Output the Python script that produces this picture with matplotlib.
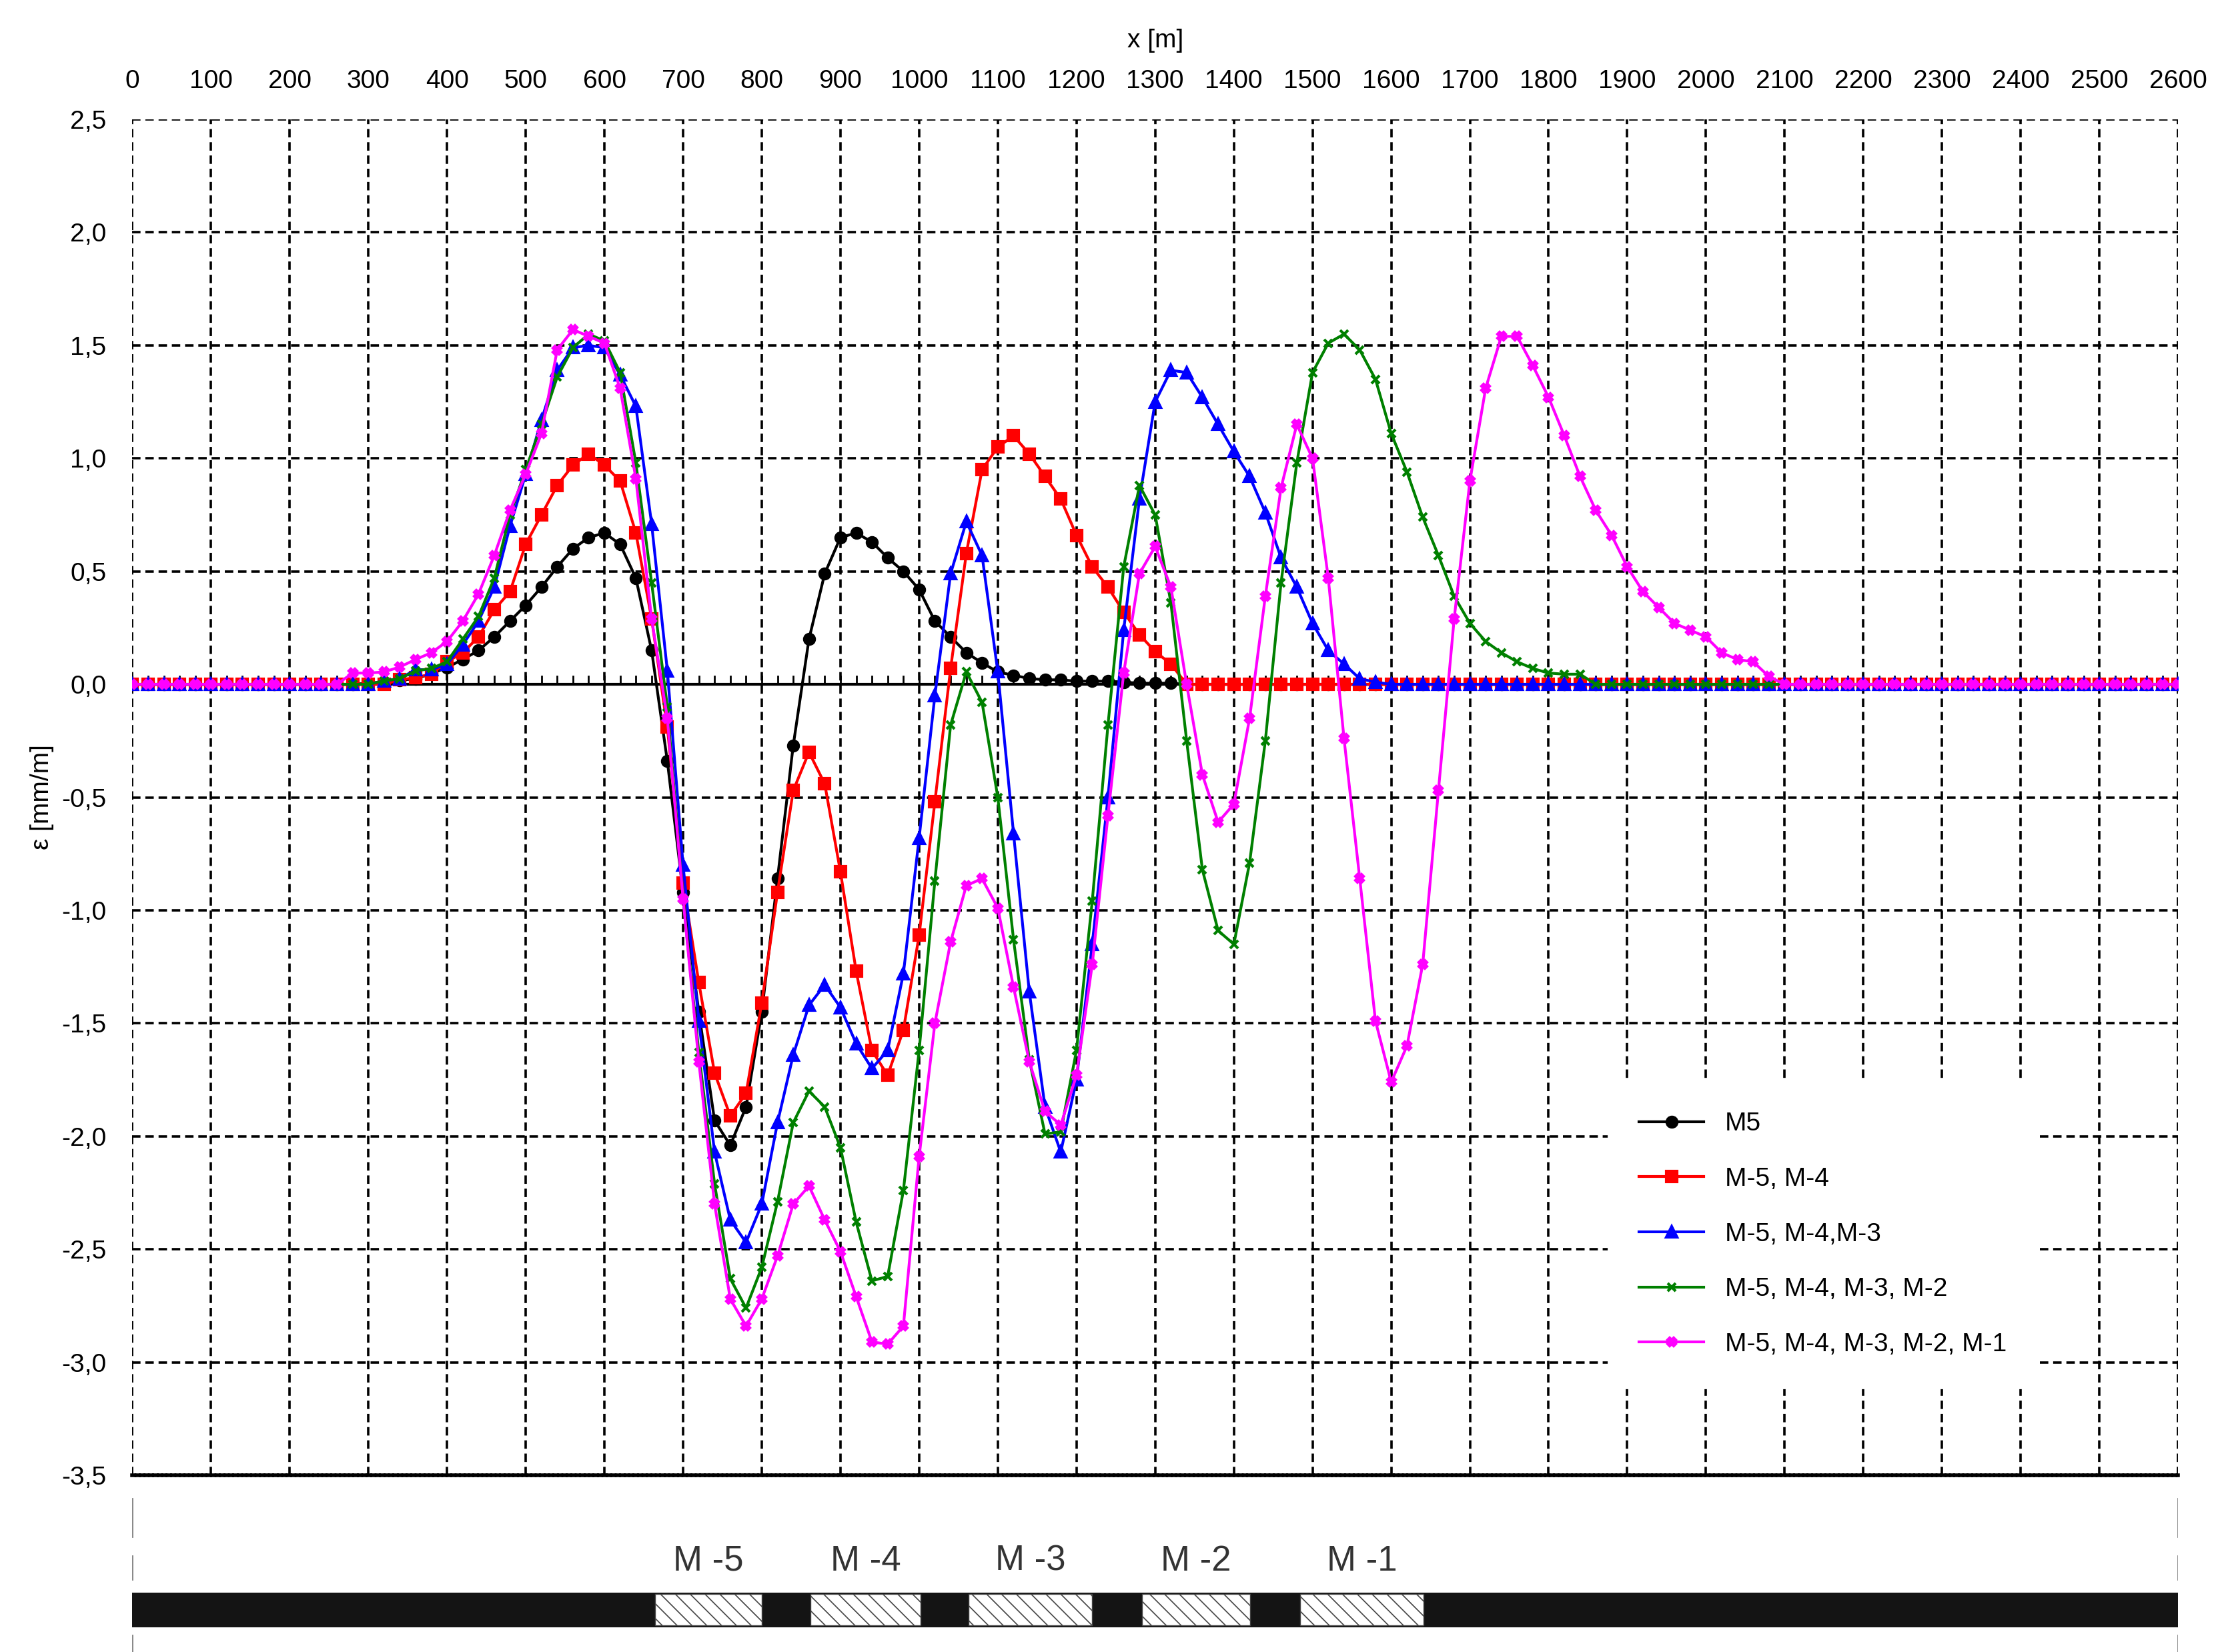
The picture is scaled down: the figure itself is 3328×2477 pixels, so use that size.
import numpy as np
import matplotlib
matplotlib.use("Agg")
import matplotlib.pyplot as plt
from matplotlib.ticker import FuncFormatter, MultipleLocator
from matplotlib.patches import Rectangle

plt.rcParams['font.family'] = ['Liberation Sans', 'DejaVu Sans']
plt.rcParams['hatch.linewidth'] = 0.6

step = 20
x_end = 2600

labels = ["M5", "M-5, M-4", "M-5, M-4,M-3", "M-5, M-4, M-3, M-2", "M-5, M-4, M-3, M-2, M-1"]
colors = ["black", "red", "blue", "green", "magenta"]

m5_start = 300
m5 = [0.005, 0.01, 0.018, 0.025, 0.047, 0.075, 0.11, 0.15, 0.21, 0.28, 0.35, 0.43, 0.52, 0.6, 0.65, 0.67,
      0.62, 0.47, 0.15, -0.34, -0.92, -1.45, -1.93, -2.04, -1.87, -1.45, -0.86, -0.27, 0.2, 0.49, 0.65, 0.67,
      0.63, 0.56, 0.5, 0.42, 0.28, 0.21, 0.14, 0.095, 0.055, 0.04, 0.026, 0.02, 0.02, 0.014, 0.014, 0.014,
      0.01, 0.005, 0.005, 0.005]

m54_start = 340
m54 = [0.02, 0.03, 0.045, 0.1, 0.14, 0.21, 0.33, 0.41, 0.62, 0.75, 0.88, 0.97, 1.02, 0.97, 0.9, 0.67, 0.29,
       -0.19, -0.88, -1.32, -1.72, -1.91, -1.81, -1.41, -0.92, -0.47, -0.3, -0.44, -0.83, -1.27, -1.62, -1.73,
       -1.53, -1.11, -0.52, 0.07, 0.58, 0.95, 1.05, 1.1, 1.02, 0.92, 0.82, 0.66, 0.52, 0.43, 0.32, 0.22, 0.145, 0.09]

m543_start = 320
m543 = [0.016, 0.025, 0.065, 0.065, 0.09, 0.175, 0.28, 0.43, 0.7, 0.93, 1.17, 1.39, 1.49, 1.5, 1.49, 1.37,
        1.23, 0.71, 0.06, -0.8, -1.49, -2.07, -2.37, -2.47, -2.3, -1.94, -1.64, -1.42, -1.33, -1.43, -1.59,
        -1.7, -1.62, -1.28, -0.68, -0.05, 0.49, 0.72, 0.57, 0.055, -0.66, -1.36, -1.87, -2.07, -1.75, -1.15,
        -0.5, 0.24, 0.82, 1.25, 1.39, 1.38, 1.27, 1.15, 1.03, 0.92, 0.76, 0.56, 0.43, 0.27, 0.15, 0.09, 0.025, 0.01]

m5432_start = 320
m5432 = [0.016, 0.025, 0.06, 0.07, 0.1, 0.2, 0.3, 0.47, 0.75, 0.95, 1.15, 1.36, 1.49, 1.55, 1.52, 1.38, 0.98,
         0.45, -0.1, -0.95, -1.63, -2.21, -2.63, -2.76, -2.58, -2.29, -1.94, -1.8, -1.87, -2.05, -2.38, -2.64,
         -2.62, -2.24, -1.62, -0.87, -0.18, 0.055, -0.08, -0.5, -1.13, -1.66, -1.99, -1.98, -1.62, -0.96, -0.18,
         0.52, 0.88, 0.75, 0.36, -0.25, -0.82, -1.09, -1.15, -0.79, -0.25, 0.45, 0.98, 1.38, 1.51, 1.55, 1.48,
         1.35, 1.11, 0.94, 0.74, 0.57, 0.39, 0.27, 0.19, 0.14, 0.1, 0.07, 0.05, 0.045, 0.045]

m54321_start = 280
m54321 = [0.05, 0.05, 0.055, 0.077, 0.11, 0.14, 0.19, 0.28, 0.4, 0.57, 0.77, 0.93, 1.11, 1.48, 1.57, 1.54,
          1.51, 1.31, 0.91, 0.29, -0.15, -0.95, -1.67, -2.3, -2.72, -2.84, -2.72, -2.53, -2.3, -2.22, -2.37,
          -2.51, -2.71, -2.91, -2.92, -2.84, -2.09, -1.5, -1.14, -0.89, -0.86, -0.99, -1.34, -1.67, -1.89, -1.95,
          -1.73, -1.24, -0.58, 0.05, 0.49, 0.61, 0.43, 0.0, -0.4, -0.61, -0.53, -0.15, 0.39, 0.87, 1.15, 1.0,
          0.47, -0.24, -0.86, -1.49, -1.76, -1.6, -1.24, -0.47, 0.29, 0.9, 1.31, 1.54, 1.54, 1.41, 1.27, 1.1,
          0.92, 0.77, 0.66, 0.52, 0.41, 0.34, 0.27, 0.24, 0.21, 0.14, 0.11, 0.1, 0.035]

series = [(m5_start, m5), (m54_start, m54), (m543_start, m543), (m5432_start, m5432), (m54321_start, m54321)]
markers = ['o', 's', '^', 'x', 'X']
msizes = [5.5, 5.5, 6, 4.5, 4.5]

panel_names = ["M -5", "M -4", "M -3", "M -2", "M -1"]
panel_from = [664, 862, 1063, 1283, 1484]
panel_to = [800, 1002, 1220, 1421, 1641]

x = np.arange(0, x_end + 1, step)

fig = plt.figure(figsize=(16.64, 12.385), dpi=200)
L, W = 0.0596, 0.9215
ax = fig.add_axes([L, 0.107, W, 0.8207])

for (start, vals), c, lab, mk, ms in zip(series, colors, labels, markers, msizes):
    y = np.zeros_like(x, dtype=float)
    i0 = start // step
    y[i0:i0 + len(vals)] = vals
    ax.plot(x, y, color=c, marker=mk, ms=ms, lw=1.5, label=lab, mew=1.5, zorder=3)

ax.axhline(0, color='black', lw=1.5, zorder=2)
for xv in range(0, x_end + 1, 20):
    ax.plot([xv, xv], [0, 0.035], color='black', lw=1.0, zorder=2)

ax.set_xlim(0, x_end)
ax.set_ylim(-3.5, 2.5)
ax.xaxis.set_major_locator(MultipleLocator(100))
ax.yaxis.set_major_locator(MultipleLocator(0.5))
ax.yaxis.set_major_formatter(FuncFormatter(lambda v, p: f"{v:.1f}".replace('.', ',')))
ax.xaxis.tick_top()
ax.xaxis.set_label_position('top')
ax.set_xlabel("x [m]", fontsize=14, labelpad=12)
ax.set_ylabel("ε [mm/m]", fontsize=14)
ax.tick_params(axis='both', labelsize=14, length=0, pad=14)
ax.grid(True, color='black', ls=(0, (3.5, 2)), lw=1.3, zorder=1)
for s in ['top', 'left', 'right']:
    ax.spines[s].set_visible(False)
ax.spines['bottom'].set_linestyle((0, (0.6, 0.6)))
ax.spines['bottom'].set_linewidth(2.0)

leg = ax.legend(loc='lower left', bbox_to_anchor=(0.715, 0.055, 0.27, 0.27), fontsize=14,
                frameon=True, fancybox=False, edgecolor='white', framealpha=1,
                handlelength=2.5, labelspacing=1.2, borderpad=1.2)

bx = fig.add_axes([L, 0.0, W, 0.1])
bx.set_xlim(0, x_end)
bx.set_ylim(0, 1)
bx.axis('off')
bx.add_patch(Rectangle((0, 0.15), x_end, 0.21, facecolor='#141414', edgecolor='none'))
for a, b, n in zip(panel_from, panel_to, panel_names):
    bx.add_patch(Rectangle((a, 0.16), b - a, 0.19, facecolor='white', edgecolor='#444444',
                           hatch='\\\\\\', lw=0.5))
    bx.text((a + b) / 2, 0.55, n, ha='center', va='center', fontsize=19, color='#333333')
for xv in [0, x_end]:
    bx.plot([xv, xv], [0.93, 0.7], color='#888888', lw=1)
    bx.plot([xv, xv], [0.58, 0.44], color='#888888', lw=1)
    bx.plot([xv, xv], [0.1, 0.0], color='#888888', lw=1)

fig.savefig("out.png", dpi=200)
